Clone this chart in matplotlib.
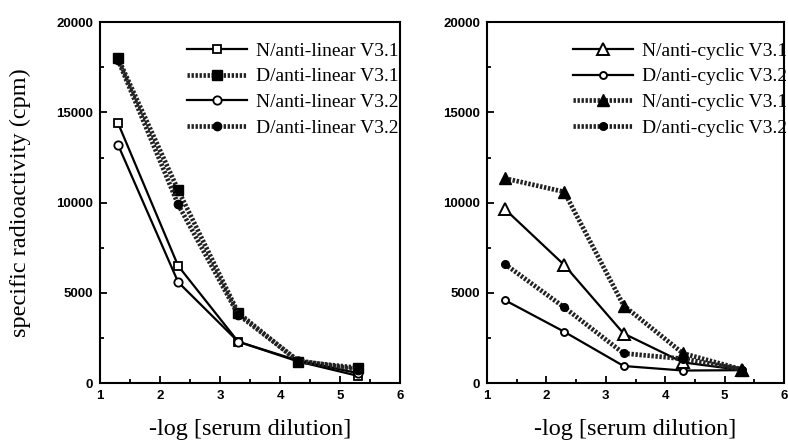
import matplotlib
matplotlib.use("Agg")
import matplotlib.pyplot as plt
from matplotlib.ticker import MultipleLocator

DILUTION = [1.3, 2.3, 3.3, 4.3, 5.3]

# left panel: linear V3 peptides
N_LINEAR_V31 = [14400, 6500, 2300, 1200, 400]
D_LINEAR_V31 = [18000, 10700, 3900, 1200, 850]
N_LINEAR_V32 = [13200, 5600, 2300, 1250, 550]
D_LINEAR_V32 = [17900, 9900, 3800, 1250, 750]

# right panel: cyclic V3 peptides
N_CYCLIC_V31 = [9650, 6550, 2750, 1150, 720]
D_CYCLIC_V32_SOLID = [4600, 2850, 950, 700, 720]
N_CYCLIC_V31_DOTTED = [11350, 10600, 4300, 1650, 750]
D_CYCLIC_V32_DOTTED = [6600, 4200, 1650, 1350, 750]

SERIF = "Liberation Serif"
SANS = "Liberation Sans"

SOLID = dict(color="black", linewidth=1.6, linestyle="-")
DOTTED = dict(color="#222222", linewidth=3.4, linestyle=(0, (0.5, 0.35)))


def style_axes(ax):
    ax.set_xlim(1, 6)
    ax.set_ylim(0, 20000)
    ax.xaxis.set_major_locator(MultipleLocator(1))
    ax.xaxis.set_minor_locator(MultipleLocator(0.5))
    ax.yaxis.set_major_locator(MultipleLocator(5000))
    ax.yaxis.set_minor_locator(MultipleLocator(2500))
    ax.tick_params(which="both", direction="in", width=1.3)
    ax.tick_params(which="major", length=5, pad=5)
    ax.tick_params(which="minor", length=3)
    for label in ax.get_xticklabels() + ax.get_yticklabels():
        label.set_fontfamily(SANS)
        label.set_fontweight("bold")
        label.set_fontsize(9.5)
    for spine in ax.spines.values():
        spine.set_linewidth(1.5)
    ax.set_xlabel("-log [serum dilution]", fontfamily=SERIF, fontsize=17.5, labelpad=12)


fig = plt.figure(figsize=(7.88, 4.44), dpi=100)
ax1 = fig.add_axes([0.127, 0.137, 0.381, 0.813])
ax2 = fig.add_axes([0.618, 0.137, 0.377, 0.813])

ax1.plot(DILUTION, N_LINEAR_V31, marker="s", markersize=6, markerfacecolor="white",
         markeredgecolor="black", markeredgewidth=1.3, label="N/anti-linear V3.1", **SOLID)
ax1.plot(DILUTION, D_LINEAR_V31, marker="s", markersize=7, markerfacecolor="black",
         markeredgecolor="black", label="D/anti-linear V3.1", **DOTTED)
ax1.plot(DILUTION, N_LINEAR_V32, marker="o", markersize=6, markerfacecolor="white",
         markeredgecolor="black", markeredgewidth=1.3, label="N/anti-linear V3.2", **SOLID)
ax1.plot(DILUTION, D_LINEAR_V32, marker="o", markersize=6, markerfacecolor="black",
         markeredgecolor="black", label="D/anti-linear V3.2", **DOTTED)

ax2.plot(DILUTION, N_CYCLIC_V31, marker="^", markersize=9, markerfacecolor="white",
         markeredgecolor="black", markeredgewidth=1.4, label="N/anti-cyclic V3.1", **SOLID)
ax2.plot(DILUTION, D_CYCLIC_V32_SOLID, marker="o", markersize=5, markerfacecolor="white",
         markeredgecolor="black", markeredgewidth=1.4, label="D/anti-cyclic V3.2", **SOLID)
ax2.plot(DILUTION, N_CYCLIC_V31_DOTTED, marker="^", markersize=9, markerfacecolor="black",
         markeredgecolor="black", label="N/anti-cyclic V3.1", **DOTTED)
ax2.plot(DILUTION, D_CYCLIC_V32_DOTTED, marker="o", markersize=5.5, markerfacecolor="black",
         markeredgecolor="black", label="D/anti-cyclic V3.2", **DOTTED)

for ax, right in ((ax1, 0.995), (ax2, 1.01)):
    style_axes(ax)
    ax.legend(loc="upper right", bbox_to_anchor=(right, 0.945), frameon=False,
              prop={"family": SERIF, "size": 14}, handlelength=3.1, handletextpad=0.45,
              labelspacing=0.42, borderpad=0, borderaxespad=0)

ax1.set_ylabel("specific radioactivity (cpm)", fontfamily=SERIF, fontsize=17.5, labelpad=18)

fig.savefig("out.png", dpi=100)
